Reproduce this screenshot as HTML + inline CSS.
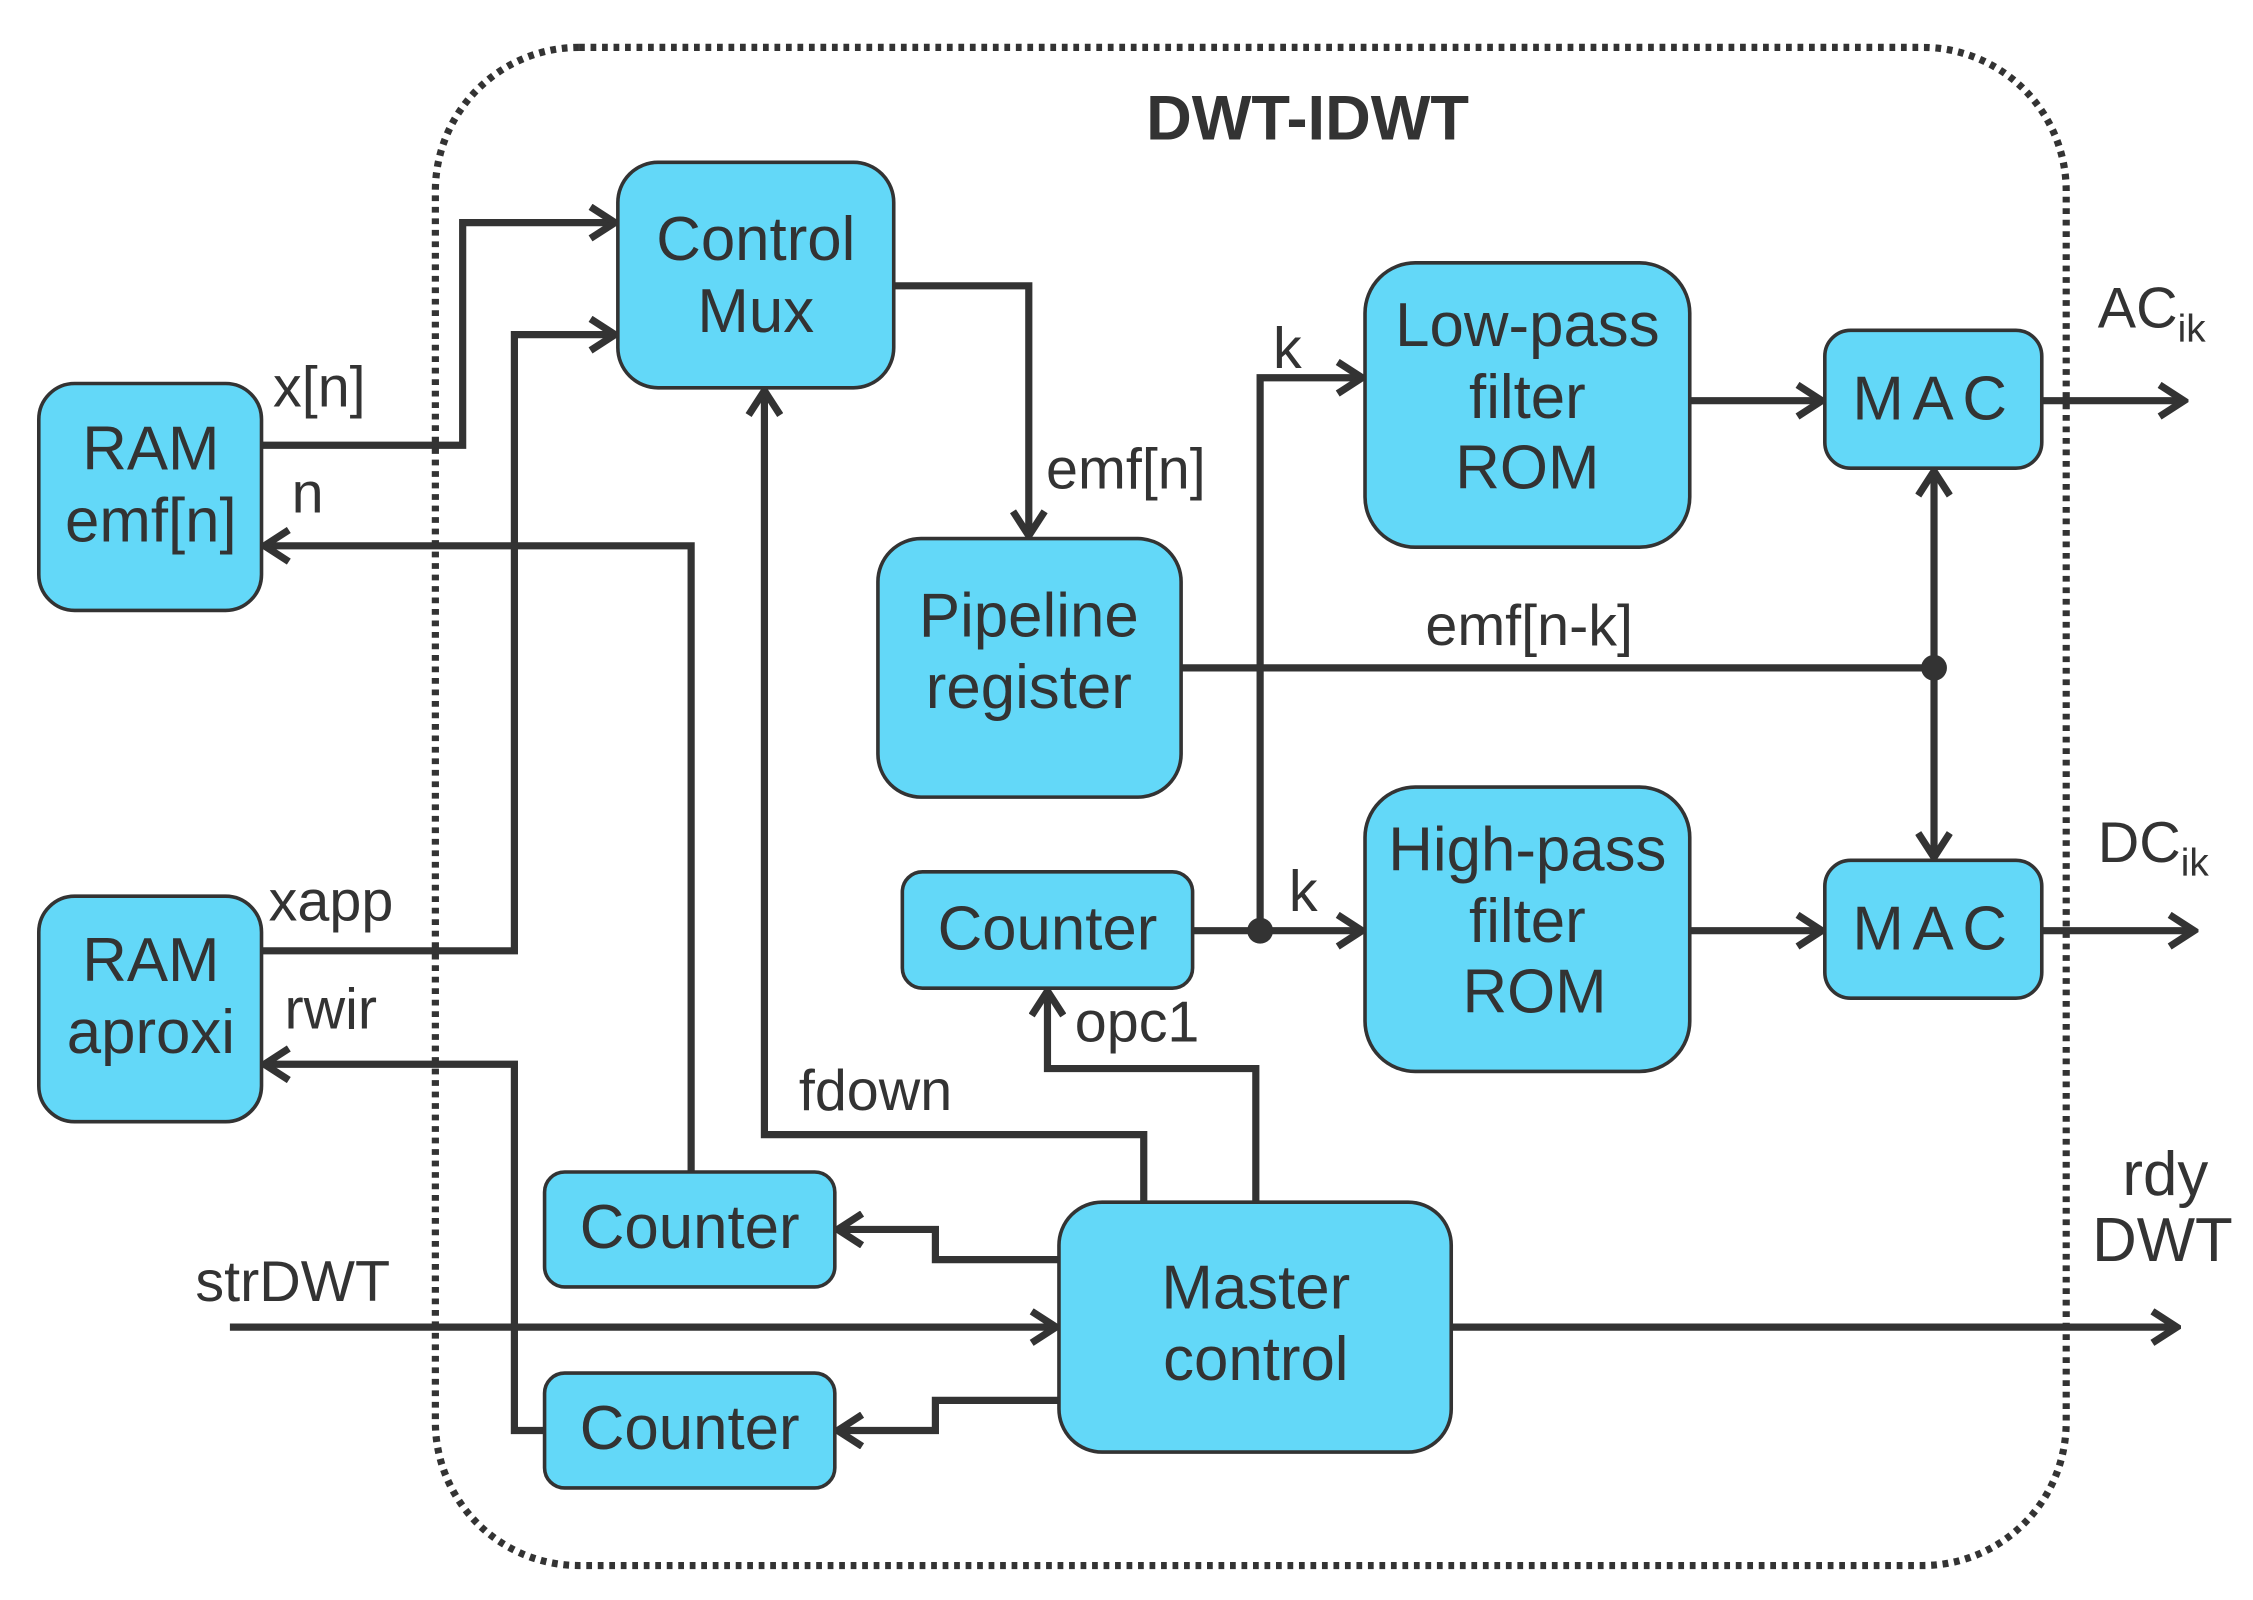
<!DOCTYPE html>
<html><head><meta charset="utf-8"><style>html,body{margin:0;padding:0;background:#fff}svg{display:block}</style></head>
<body>
<svg width="2253" height="1600" viewBox="0 0 1568 1114" preserveAspectRatio="none" xmlns="http://www.w3.org/2000/svg" font-family="Liberation Sans, Arial, sans-serif">
<defs>
<marker id="a" viewBox="0 0 26 26" refX="23" refY="13" markerWidth="26" markerHeight="26" markerUnits="userSpaceOnUse" orient="auto">
<path d="M6,2 L23,13 L6,24" fill="none" stroke="#333" stroke-width="5"/>
</marker>
</defs>
<rect x="303" y="33" width="1135" height="1057" rx="100" fill="none" stroke="#333" stroke-width="5" stroke-dasharray="4,4"/>
<text x="910" y="97" font-size="44" font-weight="bold" text-anchor="middle" fill="#333">DWT-IDWT</text>
<g fill="none" stroke="#333" stroke-width="5">
<polyline points="182,310 322,310 322,155 428,155" marker-end="url(#a)"/>
<polyline points="182,662 358,662 358,233 428,233" marker-end="url(#a)"/>
<polyline points="481,815 481,380 184,380" marker-end="url(#a)"/>
<polyline points="379,996 358,996 358,741 184,741" marker-end="url(#a)"/>
<polyline points="622,199 716,199 716,373" marker-end="url(#a)"/>
<polyline points="796,837 796,790 532,790 532,272" marker-end="url(#a)"/>
<polyline points="874,837 874,744 729,744 729,690" marker-end="url(#a)"/>
<polyline points="830,648 948,648" marker-end="url(#a)"/>
<polyline points="877,648 877,263 948,263" marker-end="url(#a)"/>
<polyline points="1176,279 1268,279" marker-end="url(#a)"/>
<polyline points="1421,279 1520,279" marker-end="url(#a)"/>
<polyline points="1176,648 1268,648" marker-end="url(#a)"/>
<polyline points="1421,648 1527,648" marker-end="url(#a)"/>
<polyline points="822,465 1346,465"/>
<polyline points="1346,465 1346,328" marker-end="url(#a)"/>
<polyline points="1346,465 1346,597" marker-end="url(#a)"/>
<polyline points="737,877 651,877 651,856 583,856" marker-end="url(#a)"/>
<polyline points="737,975 651,975 651,996 583,996" marker-end="url(#a)"/>
<polyline points="160,924 735,924" marker-end="url(#a)"/>
<polyline points="1010,924 1515,924" marker-end="url(#a)"/>
</g>
<circle cx="877" cy="648" r="9" fill="#333"/>
<circle cx="1346" cy="465" r="9" fill="#333"/>
<g fill="#63d8f8" stroke="#333" stroke-width="2.5">
<rect x="27" y="267" width="155" height="158" rx="25"/>
<rect x="27" y="624" width="155" height="157" rx="25"/>
<rect x="430" y="113" width="192" height="157" rx="28"/>
<rect x="611" y="375" width="211" height="180" rx="30"/>
<rect x="950" y="183" width="226" height="198" rx="35"/>
<rect x="950" y="548" width="226" height="198" rx="35"/>
<rect x="1270" y="230" width="151" height="96" rx="18"/>
<rect x="1270" y="599" width="151" height="96" rx="18"/>
<rect x="628" y="607" width="202" height="81" rx="14"/>
<rect x="379" y="816" width="202" height="80" rx="14"/>
<rect x="379" y="956" width="202" height="80" rx="14"/>
<rect x="737" y="837" width="273" height="174" rx="30"/>
</g>
<g font-size="43" fill="#333" text-anchor="middle">
<text x="105" y="327">RAM</text><text x="105" y="377">emf[n]</text>
<text x="105" y="683">RAM</text><text x="105" y="733">aproxi</text>
<text x="526" y="181">Control</text><text x="526" y="231">Mux</text>
<text x="716" y="443">Pipeline</text><text x="716" y="493">register</text>
<text x="1063" y="241">Low-pass</text><text x="1063" y="291">filter</text><text x="1063" y="340">ROM</text>
<text x="1063" y="606">High-pass</text><text x="1063" y="656">filter</text><text x="1068" y="705">ROM</text>
<text x="1346" y="292" letter-spacing="6">MAC</text>
<text x="1346" y="661" letter-spacing="6">MAC</text>
<text x="729" y="661">Counter</text>
<text x="480" y="869">Counter</text>
<text x="480" y="1009">Counter</text>
<text x="874" y="911">Master</text><text x="874" y="961">control</text>
<text x="1507" y="832">rdy</text><text x="1505" y="878">DWT</text>
</g>
<g font-size="40" fill="#333">
<text x="190" y="283">x[n]</text>
<text x="203" y="357">n</text>
<text x="187" y="641">xapp</text>
<text x="198" y="716">rwir</text>
<text x="728" y="340">emf[n]</text>
<text x="886" y="256">k</text>
<text x="897" y="634">k</text>
<text x="992" y="449">emf[n-k]</text>
<text x="748" y="725">opc1</text>
<text x="556" y="773">fdown</text>
<text x="136" y="906">strDWT</text>
<text x="1460" y="228">AC<tspan font-size="27" dy="10">ik</tspan></text>
<text x="1460" y="600">DC<tspan font-size="27" dy="10">ik</tspan></text>
</g>
</svg>
</body></html>
